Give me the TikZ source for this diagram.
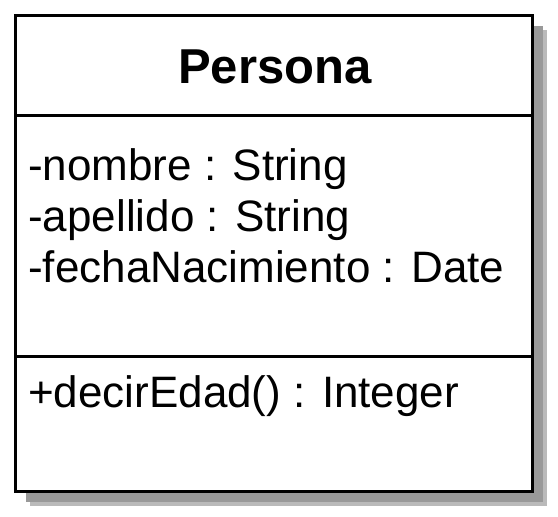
\documentclass[tikz,border=0pt]{standalone}
\usepackage{fontspec}
\setmainfont{Liberation Sans}
\usepackage{tikz}
\usetikzlibrary{shadows,positioning}
\tikzstyle{classbox} = [draw, line width=3pt, fill=white, minimum width=517pt, minimum height=476pt, inner sep=0pt, drop shadow={shadow xshift=14pt, shadow yshift=-14pt, fill=black!27, opacity=1}, drop shadow={shadow xshift=10pt, shadow yshift=-10pt, fill=black!40, opacity=1}]
\tikzstyle{classname} = [inner sep=0pt, anchor=base, font=\fontsize{49}{56}\selectfont\bfseries]
\tikzstyle{member} = [inner sep=0pt, anchor=base west, font=\fontsize{44}{51}\selectfont]
\tikzstyle{line} = [draw, line width=3pt]
\newcommand{\member}[3]{node (m#1) [member] at (28,#2) {#3}}

\begin{document}
\begin{tikzpicture}[x=1pt,y=-1pt]
\useasboundingbox (0,0) rectangle (558,517);
\path (274,253.5) node (box) [classbox] {};
\path (275,83) node (name) [classname] {Persona};
% compartments
\coordinate (s1) at (0,115);
\coordinate (s2) at (0,356);
\path [line] (box.west |- s1) -- (box.east |- s1);
\path [line] (box.west |- s2) -- (box.east |- s2);
% attributes
\path \member{1}{180}{-nombre : String};
\path \member{2}{231}{-apellido : String};
\path \member{3}{282}{-fechaNacimiento : Date};
% operations
\path \member{4}{407}{+decirEdad() : Integer};
\end{tikzpicture}
\end{document}
